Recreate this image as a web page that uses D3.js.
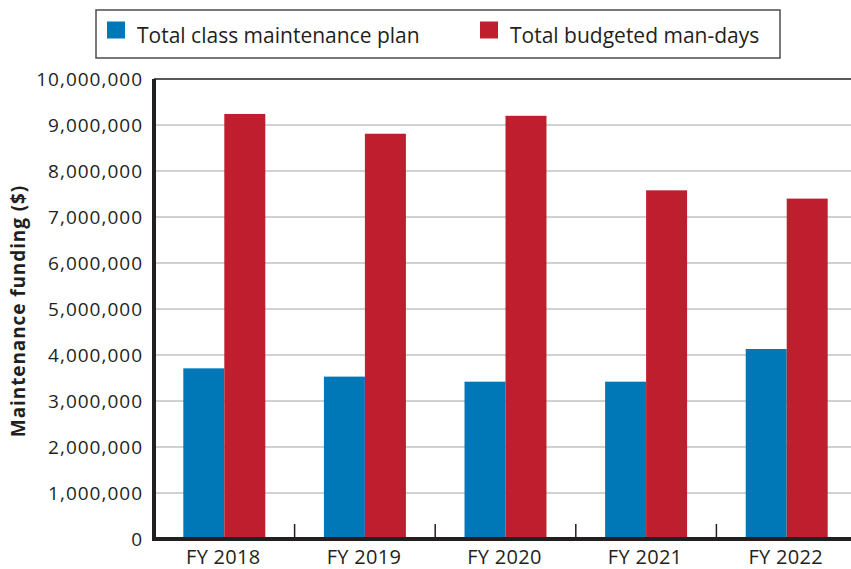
<!DOCTYPE html>
<html>
<head>
<meta charset="utf-8">
<script src="https://cdn.jsdelivr.net/npm/d3@7"></script>
<style>
  body { margin: 0; background: #fff; }
  text { font-family: "Open Sans", sans-serif; fill: #231f20; }
</style>
</head>
<body>
<div id="chart"></div>
<script>
// chart values
var years = ['FY 2018', 'FY 2019', 'FY 2020', 'FY 2021', 'FY 2022'];
var seriesNames = ['Total class maintenance plan', 'Total budgeted man-days'];
var maintenancePlan = [3710000, 3530000, 3420000, 3420000, 4130000];
var budgetedManDays = [9240000, 8810000, 9200000, 7580000, 7400000];
var yTicks = [0, 1000000, 2000000, 3000000, 4000000, 5000000, 6000000, 7000000, 8000000, 9000000, 10000000];
var colors = ['#0077b6', '#be1e2d'];

var margin = {top: 79, right: -6, bottom: 30, left: 154}
  , width = 851 - margin.left - margin.right
  , height = 569 - margin.top - margin.bottom;

var svg = d3.select('#chart').append('svg')
    .attr('width', 851)
    .attr('height', 569);

var g = svg.append('g')
    .attr('transform', 'translate(' + margin.left + ',' + margin.top + ')');

var x0 = d3.scaleBand().domain(years).range([0, width]).padding(0);
var x1 = d3.scaleBand().domain(seriesNames).range([0, x0.bandwidth()])
    .paddingInner(0).paddingOuter(0.715);
var y = d3.scaleLinear().domain([0, 10000000]).range([height, 0]);

// gridlines
g.selectAll('.grid')
  .data(yTicks.slice(1))
  .enter().append('line')
    .attr('x1', 0)
    .attr('x2', width)
    .attr('y1', function(d) { return y(d); })
    .attr('y2', function(d) { return y(d); })
    .attr('stroke', function(d) { return d === 10000000 ? '#231f20' : '#a3a3a3'; })
    .attr('stroke-width', function(d) { return d === 10000000 ? 1.5 : 1.2; });

// bars
var rows = years.map(function(yr, i) {
  return {year: yr, values: [maintenancePlan[i], budgetedManDays[i]]};
});

var groups = g.selectAll('.grp')
  .data(rows)
  .enter().append('g')
    .attr('transform', function(d) { return 'translate(' + x0(d.year) + ',0)'; });

groups.selectAll('rect')
  .data(function(d) { return d.values.map(function(v, k) { return {name: seriesNames[k], v: v, k: k}; }); })
  .enter().append('rect')
    .attr('x', function(d) { return x1(d.name); })
    .attr('width', x1.bandwidth())
    .attr('y', function(d) { return y(d.v); })
    .attr('height', function(d) { return height - y(d.v); })
    .attr('fill', function(d) { return colors[d.k]; });

// x axis: ticks between categories pointing up
var xAxis = g.append('g')
    .attr('transform', 'translate(0,' + height + ')');
xAxis.selectAll('.sep')
  .data(years.slice(1))
  .enter().append('line')
    .attr('x1', function(d) { return x0(d); })
    .attr('x2', function(d) { return x0(d); })
    .attr('y1', -15)
    .attr('y2', 0)
    .attr('stroke', '#231f20')
    .attr('stroke-width', 1.5);
xAxis.append('line')
    .attr('x1', -2)
    .attr('x2', width)
    .attr('stroke', '#231f20')
    .attr('stroke-width', 4);
xAxis.selectAll('.lbl')
  .data(years)
  .enter().append('text')
    .attr('x', function(d) { return x0(d) + x0.bandwidth() / 2 - 1; })
    .attr('y', 25)
    .attr('text-anchor', 'middle')
    .style('font-size', '20px')
    .style('letter-spacing', '0.3px')
    .text(function(d) { return d; });

// y axis
var fmt = d3.format(',');
var yAxis = g.append('g');
yAxis.append('line')
    .attr('y1', 0)
    .attr('y2', height + 2)
    .attr('stroke', '#231f20')
    .attr('stroke-width', 4);
yAxis.selectAll('.lbl')
  .data(yTicks)
  .enter().append('text')
    .attr('x', -11)
    .attr('y', function(d) { return y(d); })
    .attr('dy', '0.36em')
    .attr('text-anchor', 'end')
    .style('font-size', '19px')
    .style('letter-spacing', '1px')
    .text(function(d) { return fmt(d); });

svg.append('text')
    .attr('transform', 'translate(25,311) rotate(-90)')
    .attr('text-anchor', 'middle')
    .style('font-size', '19px')
    .style('font-weight', 'bold')
    .style('letter-spacing', '0.9px')
    .text('Maintenance funding ($)');

// legend
var legend = svg.append('g');
legend.append('rect')
    .attr('x', 96)
    .attr('y', 10)
    .attr('width', 684)
    .attr('height', 48)
    .attr('fill', '#fff')
    .attr('stroke', '#4d4d4d')
    .attr('stroke-width', 1.5);
var legendX = [107, 480];
seriesNames.forEach(function(name, k) {
  legend.append('rect')
      .attr('x', legendX[k])
      .attr('y', 21.5)
      .attr('width', 18)
      .attr('height', 17)
      .attr('fill', colors[k]);
  legend.append('text')
      .attr('x', legendX[k] + 30)
      .attr('y', 42.5)
      .style('font-size', '21px')
      .text(name);
});
</script>
</body>
</html>
